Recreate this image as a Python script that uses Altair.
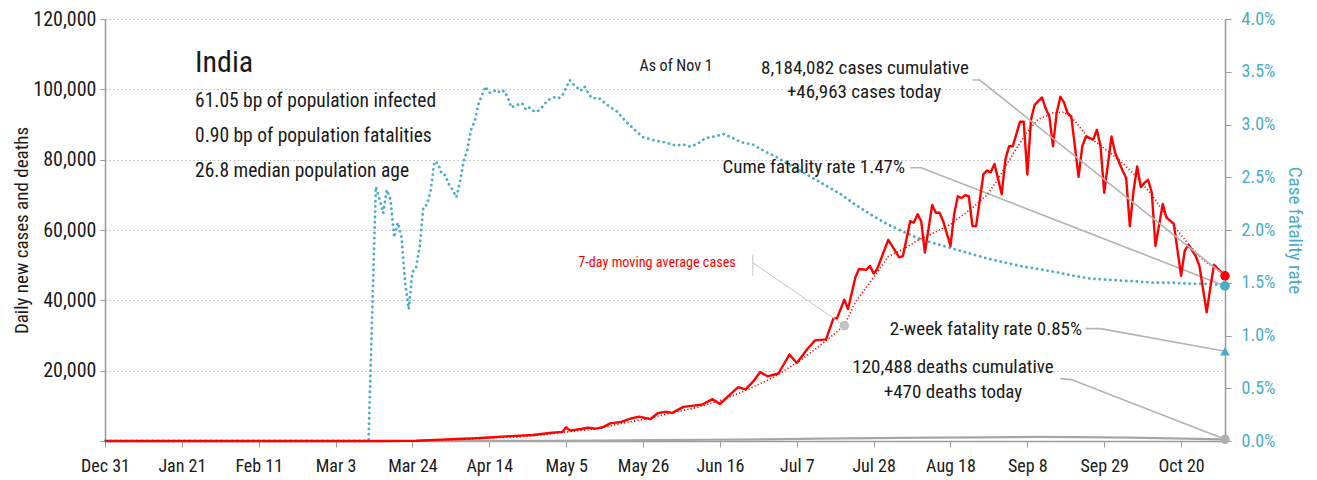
import altair as alt
import pandas as pd

FONT = "Roboto Condensed, Roboto, Liberation Sans, sans-serif"
RED = "#ff0000"
TEAL = "#4bacc6"
GRAY = "#a6a6a6"
LEADER = "#b3b3b3"
INK = "#1a1a1a"
START = pd.Timestamp("2019-12-31")

# ---- data (x positions are days since Dec 31, 2019) ----
case_day = [0, 61, 75, 85, 92, 96, 100, 105, 111, 117,
            122, 125, 126, 127, 130, 132, 134, 136, 138, 141,
            144, 146, 149, 151, 153, 155, 158, 162, 163, 166,
            168, 170, 173, 175, 177, 179, 181, 184, 187, 189,
            192, 194, 197, 199, 200, 202, 203, 205, 206, 208,
            209, 210, 211, 214, 217, 218, 220, 221, 222, 223,
            224, 226, 227, 228, 229, 231, 232, 233, 234, 235,
            236, 237, 238, 240, 241, 242, 243, 245, 246, 247,
            248, 250, 251, 252, 253, 254, 256, 257, 258, 259,
            260, 261, 262, 263, 264, 266, 267, 268, 270, 271,
            272, 273, 275, 276, 278, 279, 280, 281, 282, 283,
            284, 285, 286, 287, 289, 290, 292, 294, 295, 296,
            298, 299, 301, 302, 303, 304, 306]
case_val = [0, 0, 20, 90, 400, 550, 700, 1000, 1400, 1700,
            2350, 2600, 3900, 2950, 3400, 3800, 3500, 3900, 5000, 5450,
            6500, 6900, 6200, 7900, 8300, 8000, 9700, 10200, 10300, 11900,
            10500, 12500, 15300, 14700, 16800, 19600, 18400, 19200, 24600, 22200,
            26300, 28600, 28900, 34800, 34900, 40200, 37500, 46500, 48900, 48700,
            49800, 47600, 49000, 57200, 52200, 52600, 62500, 62100, 64500, 62500,
            53600, 67100, 64900, 64900, 62500, 55500, 64500, 69600, 69100, 69900,
            69600, 61100, 61100, 75900, 76900, 76400, 78800, 70200, 80100, 83800,
            83800, 90800, 90800, 75800, 91400, 95600, 97700, 94600, 92300, 83800,
            93200, 97900, 96300, 93200, 92300, 75100, 83800, 86600, 85700, 88500,
            83800, 70600, 86600, 81900, 76900, 74800, 61100, 71000, 78100, 72200,
            73400, 74300, 70600, 55500, 67400, 63500, 61800, 47000, 54100, 55800,
            52600, 49800, 36600, 43700, 50100, 49000, 46963]

ma_day = [0, 61, 85, 92, 100, 106, 113, 120, 127, 134,
          141, 148, 155, 162, 169, 176, 183, 190, 197, 202,
          205, 210, 214, 218, 222, 226, 231, 237, 241, 244,
          248, 252, 255, 259, 262, 265, 268, 272, 277, 281,
          286, 291, 296, 300, 306]
ma_val = [0, 0, 70, 250, 550, 900, 1200, 1800, 2700, 3400,
          5000, 6300, 8000, 9600, 11800, 14800, 18300, 22900, 28500, 32800,
          39500, 46500, 52500, 54500, 57000, 59000, 61600, 66300, 70000, 74500,
          81500, 88000, 91500, 93300, 93500, 91000, 87000, 84000, 80000, 76000,
          70000, 62500, 56000, 51500, 47300]

death_day = [0, 72, 92, 105, 120, 135, 150, 165, 180, 195,
             210, 225, 240, 255, 265, 280, 295, 306]
death_val = [0, 0, 5, 30, 70, 120, 230, 350, 450, 650,
             800, 950, 1050, 1150, 1100, 950, 650, 470]

# cumulative case fatality rate, percent
cfr_day = [0, 72, 74, 75, 76, 77, 78, 79, 80, 81,
           82, 83, 84, 85, 86, 87, 88, 89, 90, 91,
           92, 93, 94, 95, 96, 97, 98, 99, 100, 101,
           102, 103, 104, 105, 106, 107, 108, 109, 110, 111,
           112, 113, 114, 115, 116, 117, 118, 119, 120, 121,
           122, 123, 124, 125, 126, 127, 128, 129, 130, 131,
           132, 133, 135, 137, 140, 142, 145, 147, 150, 153,
           156, 158, 160, 162, 164, 167, 169, 171, 174, 177,
           180, 183, 186, 189, 192, 195, 198, 201, 205, 210,
           214, 219, 223, 228, 232, 237, 241, 246, 250, 255,
           260, 264, 269, 273, 278, 283, 287, 292, 297, 302,
           306]
cfr_val = [0, 0, 2.41, 2.29, 2.16, 2.38, 2.29, 1.93, 2.07, 1.93,
           1.50, 1.25, 1.60, 1.65, 1.85, 2.22, 2.24, 2.38, 2.65, 2.63,
           2.53, 2.52, 2.43, 2.38, 2.31, 2.46, 2.65, 2.76, 2.95, 3.03,
           3.19, 3.28, 3.36, 3.30, 3.31, 3.33, 3.30, 3.32, 3.26, 3.16,
           3.18, 3.19, 3.20, 3.14, 3.16, 3.13, 3.12, 3.15, 3.19, 3.23,
           3.25, 3.26, 3.25, 3.28, 3.35, 3.42, 3.38, 3.35, 3.32, 3.36,
           3.30, 3.25, 3.25, 3.19, 3.12, 3.04, 2.94, 2.88, 2.85, 2.83,
           2.80, 2.81, 2.79, 2.82, 2.87, 2.89, 2.91, 2.88, 2.83, 2.81,
           2.75, 2.70, 2.64, 2.58, 2.52, 2.46, 2.40, 2.34, 2.24, 2.13,
           2.05, 1.97, 1.91, 1.86, 1.82, 1.77, 1.73, 1.69, 1.66, 1.63,
           1.60, 1.57, 1.54, 1.53, 1.52, 1.51, 1.50, 1.50, 1.49, 1.49,
           1.47]
two_week_rate = 0.85
ma_dot_day = 202

x_tick_dates = ["2019-12-31", "2020-01-21", "2020-02-11", "2020-03-03", "2020-03-24",
                "2020-04-14", "2020-05-05", "2020-05-26", "2020-06-16", "2020-07-07",
                "2020-07-28", "2020-08-18", "2020-09-08", "2020-09-29", "2020-10-20"]
y_left_ticks = [0, 20000, 40000, 60000, 80000, 100000, 120000]
y_right_ticks = [0, 0.5, 1.0, 1.5, 2.0, 2.5, 3.0, 3.5, 4.0]

assert len(case_day) == len(case_val)
assert len(ma_day) == len(ma_val)
assert len(death_day) == len(death_val)
assert len(cfr_day) == len(cfr_val)


def dates(days):
    return [START + pd.Timedelta(days=int(d)) for d in days]


def dt(s):
    t = pd.Timestamp(s)
    return alt.DateTime(year=t.year, month=t.month, date=t.day)


# ---- encodings ----
x_enc = alt.X(
    "date:T",
    scale=alt.Scale(domain=[dt("2019-12-31"), dt("2020-11-01")]),
    axis=alt.Axis(values=[dt(s) for s in x_tick_dates], format="%b %-d", title=None,
                  grid=False, tickSize=6, labelPadding=10, labelFontSize=18,
                  labelColor=INK, domainColor="#9a9a9a", tickColor="#9a9a9a",
                  domainWidth=1.5, labelFlush=False),
)
yL = alt.Y(
    "value:Q",
    scale=alt.Scale(domain=[0, 120000], nice=False),
    axis=alt.Axis(values=y_left_ticks, labelExpr="datum.value === 0 ? '' : format(datum.value, ',')",
                  title="Daily new cases and deaths", titleFontSize=19, titleFontWeight="normal",
                  titleColor=INK, titlePadding=1, labelFontSize=20, labelColor=INK,
                  tickSize=5, labelPadding=4, grid=True, gridDash=[1.5, 2.5], gridColor="#bdbdbd",
                  domainColor="#9a9a9a", tickColor="#9a9a9a", domainWidth=1.5),
)
yR = alt.Y(
    "pct:Q",
    scale=alt.Scale(domain=[0, 4], nice=False),
    axis=alt.Axis(orient="right", values=y_right_ticks, labelExpr="format(datum.value, '.1f') + '%'",
                  title="Case fatality rate", titleFontSize=19, titleFontWeight="normal",
                  titleColor=TEAL, titlePadding=10, labelFontSize=18, labelColor=TEAL,
                  tickSize=6, labelPadding=10, grid=False,
                  domainColor="#9a9a9a", tickColor="#9a9a9a", domainWidth=1.5),
)

# ---- left (cases/deaths) group ----
cases_df = pd.DataFrame({"date": dates(case_day), "value": case_val})
ma_df = pd.DataFrame({"date": dates(ma_day), "value": ma_val})
death_df = pd.DataFrame({"date": dates(death_day), "value": death_val})

deaths_line = alt.Chart(death_df).mark_line(color=GRAY, strokeWidth=2.2).encode(x=x_enc, y=yL)
ma_line = alt.Chart(ma_df).mark_line(color=RED, strokeWidth=1.6, strokeDash=[1.2, 2.2]).encode(x=x_enc, y=yL)
cases_line = alt.Chart(cases_df).mark_line(color=RED, strokeWidth=2.4, strokeJoin="round").encode(x=x_enc, y=yL)

ma_dot_val = ma_val[ma_day.index(ma_dot_day)]
left_leaders = pd.DataFrame({
    "date": dates([237, 239, case_day[-1], 261, 264, death_day[-1]]),
    "value": [102650, 102650, case_val[-1], 17740, 17460, death_val[-1]],
    "grp": ["c", "c", "c", "d", "d", "d"],
    "ord": [0, 1, 2, 0, 1, 2],
})
left_leader_lines = alt.Chart(left_leaders).mark_line(color=LEADER, strokeWidth=1.6).encode(
    x=x_enc, y=yL, detail="grp:N", order="ord:Q")
ma_ptr = pd.DataFrame({
    "date": dates([177, 177, 177, ma_dot_day]),
    "value": [53200, 47000, 50700, ma_dot_val],
    "grp": ["v", "v", "g", "g"],
    "ord": [0, 1, 0, 1],
})
ma_ptr_lines = alt.Chart(ma_ptr).mark_line(color="#c4c4c4", strokeWidth=1).encode(
    x=x_enc, y=yL, detail="grp:N", order="ord:Q")

left_pts = pd.DataFrame({
    "date": dates([case_day[-1], death_day[-1], ma_dot_day]),
    "value": [case_val[-1], death_val[-1], ma_dot_val],
    "col": [RED, "#b0b0b0", "#c4c4c4"],
})
left_points = alt.Chart(left_pts).mark_point(filled=True, opacity=1, size=90, shape="circle").encode(
    x=x_enc, y=yL, color=alt.Color("col:N", scale=None))


def label(text, px, py, size=19, align="left", color=INK, baseline="middle", weight="normal"):
    return alt.Chart(pd.DataFrame({"t": [text]})).mark_text(
        align=align, baseline=baseline, fontSize=size, color=color, font=FONT, fontWeight=weight
    ).encode(x=alt.value(px), y=alt.value(py), text="t:N")


# text positions are relative to the plot area
TOP = 11
texts = [
    label("India", 90, 72 - 8 - TOP, size=30, baseline="alphabetic"),
    label("61.05 bp of population infected", 90, 101 - 8 - TOP, size=19.5),
    label("0.90 bp of population fatalities", 90, 136 - 8 - TOP, size=19.5),
    label("26.8 median population age", 90, 171 - 8 - TOP, size=19.5),
    label("As of Nov 1", 571, 66 - 8 - TOP, size=16, align="center"),
    label("8,184,082 cases cumulative", 760, 68 - 8 - TOP, align="center"),
    label("+46,963 cases today", 759, 92 - 8 - TOP, align="center"),
    label("Cume fatality rate 1.47%", 800, 167 - 8 - TOP, align="right"),
    label("2-week fatality rate 0.85%", 977, 329 - 8 - TOP, align="right"),
    label("120,488 deaths cumulative", 848, 367 - 8 - TOP, align="center"),
    label("+470 deaths today", 848, 392 - 8 - TOP, align="center"),
    label("7-day moving average cases", 552, 263 - 8 - TOP, size=14.2, align="center", color=RED),
]

left_group = alt.layer(deaths_line, ma_line, cases_line, ma_ptr_lines, left_leader_lines,
                       left_points, *texts)

# ---- right (fatality rate) group ----
cfr_df = pd.DataFrame({"date": dates(cfr_day), "pct": cfr_val})
cfr_line = alt.Chart(cfr_df).mark_line(color=TEAL, strokeWidth=2.8, strokeDash=[0.1, 5.2],
                                       strokeCap="round").encode(x=x_enc, y=yR)
right_leaders = pd.DataFrame({
    "date": dates([220, 223, cfr_day[-1], 268, 272, cfr_day[-1]]),
    "pct": [2.59, 2.59, cfr_val[-1], 1.065, 1.065, two_week_rate],
    "grp": ["f", "f", "f", "w", "w", "w"],
    "ord": [0, 1, 2, 0, 1, 2],
})
right_leader_lines = alt.Chart(right_leaders).mark_line(color=LEADER, strokeWidth=1.6).encode(
    x=x_enc, y=yR, detail="grp:N", order="ord:Q")
right_pts = pd.DataFrame({
    "date": dates([cfr_day[-1], cfr_day[-1]]),
    "pct": [cfr_val[-1], two_week_rate],
    "shp": ["circle", "triangle-up"],
})
right_points = alt.Chart(right_pts).mark_point(filled=True, opacity=1, size=95, color=TEAL).encode(
    x=x_enc, y=yR, shape=alt.Shape("shp:N", scale=None))

right_group = alt.layer(cfr_line, right_leader_lines, right_points)

chart = alt.layer(right_group, left_group).resolve_scale(y="independent").properties(
    width=1120, height=441 - 8 - TOP,
    padding={"left": 97, "top": TOP, "right": 84, "bottom": 39},
    autosize=alt.AutoSizeParams(type="none"),
).configure_view(stroke=None).configure_axis(
    labelFont=FONT, titleFont=FONT
).configure_text(font=FONT)

chart.save("out.html", embed_options={"renderer": "svg", "actions": False})
